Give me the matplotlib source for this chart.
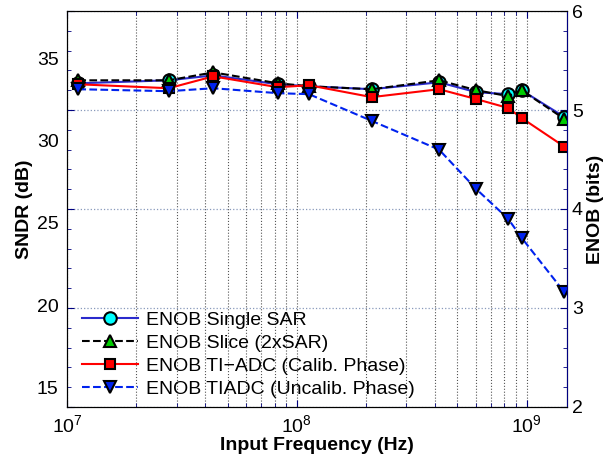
import matplotlib
matplotlib.use('Agg')
import matplotlib.pyplot as plt
import numpy as np

plt.rcParams['font.family'] = ['Liberation Sans', 'DejaVu Sans']
plt.rcParams['mathtext.fontset'] = 'custom'
plt.rcParams['mathtext.rm'] = 'Liberation Sans'
plt.rcParams['mathtext.it'] = 'Liberation Sans:italic'
plt.rcParams['mathtext.bf'] = 'Liberation Sans:bold'

freq = [1.12e7, 2.77e7, 4.33e7, 8.28e7, 1.13e8, 2.12e8, 4.16e8, 6.05e8, 8.32e8, 9.51e8, 1.46e9]
enob_single = [5.27, 5.30, 5.35, 5.26, 5.24, 5.21, 5.28, 5.18, 5.16, 5.20, 4.93]
enob_slice = [5.30, 5.30, 5.38, 5.27, 5.24, 5.21, 5.30, 5.20, 5.14, 5.20, 4.91]
enob_calib = [5.26, 5.22, 5.34, 5.23, 5.25, 5.13, 5.21, 5.11, 5.02, 4.92, 4.63]
enob_uncalib = [5.21, 5.19, 5.22, 5.17, 5.16, 4.89, 4.60, 4.20, 3.90, 3.71, 3.16]

enob_lim = (2, 6)
sndr_lim = (6.02 * enob_lim[0] + 1.76, 6.02 * enob_lim[1] + 1.76)
navy = '#000080'

fig = plt.figure(figsize=(6.16, 4.63), dpi=100)
ax = fig.add_axes([0.1088, 0.121, 0.8117, 0.8552])
ax2 = ax.twinx()

ax.set_xscale('log')
ax.set_xlim(1e7, 1.5e9)
ax.set_ylim(*sndr_lim)
ax.set_yticks([15, 20, 25, 30, 35])
ax2.set_ylim(*enob_lim)
ax2.set_yticks([2, 3, 4, 5, 6])
ax2.set_yticks(np.arange(2, 6.01, 0.2), minor=True)

ax2.plot(freq, enob_single, '-', color='#2a2acc', lw=1.5, marker='o', ms=9,
         mfc='cyan', mec='k', mew=1.5, label='ENOB Single SAR')
ax2.plot(freq, enob_slice, '--', color='k', lw=1.5, marker='^', ms=8,
         mfc='#00cc00', mec='k', mew=1.5, label='ENOB Slice (2xSAR)')
ax2.plot(freq, enob_calib, '-', color='r', lw=1.5, marker='s', ms=7.5,
         mfc='r', mec='k', mew=1.5, label='ENOB TI\u2212ADC (Calib. Phase)')
ax2.plot(freq, enob_uncalib, '--', color='#0022ee', lw=1.5, marker='v', ms=9,
         mfc='#0022ee', mec='k', mew=1.5, label='ENOB TIADC (Uncalib. Phase)')

ax.grid(True, which='both', axis='x', linestyle=':', color='#555555', lw=0.8)
ax2.grid(True, which='major', axis='y', linestyle=':', color='#8899bb', lw=0.9)

ax.tick_params(which='both', direction='in', top=True, labelsize=14, color=navy)
ax.tick_params(axis='y', which='both', length=0, pad=6)
ax.tick_params(axis='x', which='major', length=5, pad=5)
ax.tick_params(axis='x', which='minor', length=3)
ax2.tick_params(which='both', direction='in', left=True, labelsize=14, color=navy)
ax2.tick_params(which='major', length=5)
ax2.tick_params(which='minor', length=3)
ax2.spines['right'].set_color(navy)

ax.set_xlabel('Input Frequency (Hz)', fontsize=14, fontweight='bold', labelpad=1)
ax.set_ylabel('SNDR (dB)', fontsize=14, fontweight='bold', labelpad=3)
ax2.set_ylabel('ENOB (bits)', fontsize=14, fontweight='bold', labelpad=3)

ax2.legend(loc='lower left', bbox_to_anchor=(0.03, 0.023), frameon=False,
           fontsize=14, handlelength=2.9, labelspacing=0.27, borderaxespad=0,
           borderpad=0, handletextpad=0.4)

fig.savefig('out.png', dpi=100)
